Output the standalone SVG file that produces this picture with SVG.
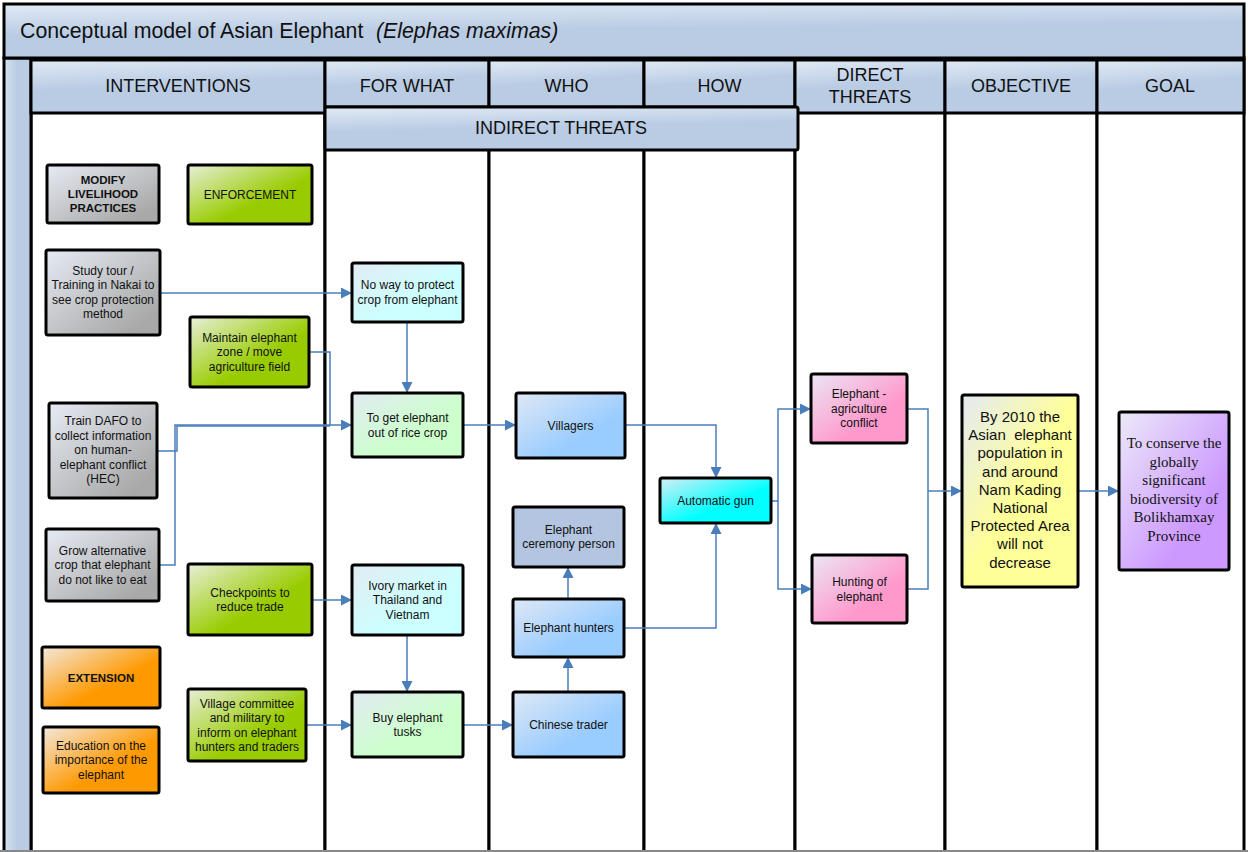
<svg xmlns="http://www.w3.org/2000/svg" width="1248" height="852" viewBox="0 0 1248 852">
  <style>
    text { font-family: "Liberation Sans", Arial, sans-serif; fill: #111; }
    .hd { font-size: 18px; text-anchor: middle; }
    .nt { font-size: 12px; text-anchor: middle; }
    .bd { font-size: 11.5px; font-weight: bold; text-anchor: middle; }
    .obj { font-size: 15px; text-anchor: middle; }
    .goal { font-family: "Liberation Serif", "Times New Roman", serif; font-size: 15px; text-anchor: middle; }
    .frame { stroke: #000; stroke-width: 3; }
    .box { stroke: #000; stroke-width: 3; }
    .link { fill: none; stroke: #4a7ebb; stroke-width: 1.5; }
    .arr { marker-end: url(#ah); }
  </style>
  <defs>
    <marker id="ah" markerUnits="userSpaceOnUse" markerWidth="11" markerHeight="11" refX="11" refY="5.5" orient="auto">
      <path d="M0,0 L11,5.5 L0,11 z" fill="#4a7ebb"/>
    </marker>
    <linearGradient id="gHead" x1="0" y1="0" x2="0.25" y2="1">
      <stop offset="0" stop-color="#e2eaf5"/>
      <stop offset="0.55" stop-color="#b9cce4"/>
    </linearGradient>
    <linearGradient id="gBand" x1="0" y1="0" x2="1" y2="0">
      <stop offset="0" stop-color="#d6e1ef"/>
      <stop offset="0.5" stop-color="#b9cce4"/>
    </linearGradient>
    <linearGradient id="gGray" x1="0" y1="0" x2="1" y2="1">
      <stop offset="0" stop-color="#e6ebf3"/>
      <stop offset="0.85" stop-color="#a9a9a9"/>
    </linearGradient>
    <linearGradient id="gGreen" x1="0" y1="0" x2="1" y2="1">
      <stop offset="0" stop-color="#e8efd9"/>
      <stop offset="0.6" stop-color="#99cc00"/>
    </linearGradient>
    <linearGradient id="gOrange" x1="0" y1="0" x2="1" y2="1">
      <stop offset="0" stop-color="#f3e8dc"/>
      <stop offset="0.6" stop-color="#ff9900"/>
    </linearGradient>
    <linearGradient id="gLCyan" x1="0" y1="0" x2="1" y2="1">
      <stop offset="0" stop-color="#e2ecf3"/>
      <stop offset="0.6" stop-color="#ccffff"/>
    </linearGradient>
    <linearGradient id="gLGreen" x1="0" y1="0" x2="1" y2="1">
      <stop offset="0" stop-color="#e2ebf3"/>
      <stop offset="0.6" stop-color="#ccffcc"/>
    </linearGradient>
    <linearGradient id="gBlue" x1="0" y1="0" x2="1" y2="1">
      <stop offset="0" stop-color="#dfe8f5"/>
      <stop offset="0.65" stop-color="#99ccff"/>
    </linearGradient>
    <linearGradient id="gCyan" x1="0" y1="0" x2="1" y2="1">
      <stop offset="0" stop-color="#d6eef6"/>
      <stop offset="0.6" stop-color="#00ffff"/>
    </linearGradient>
    <linearGradient id="gPink" x1="0" y1="0" x2="1" y2="1">
      <stop offset="0" stop-color="#ebe6f4"/>
      <stop offset="0.65" stop-color="#ff99cc"/>
    </linearGradient>
    <linearGradient id="gYellow" x1="0" y1="0" x2="1" y2="1">
      <stop offset="0" stop-color="#e3eaf3"/>
      <stop offset="0.5" stop-color="#ffff99"/>
    </linearGradient>
    <linearGradient id="gPurple" x1="0" y1="0" x2="1" y2="1">
      <stop offset="0" stop-color="#ece9f8"/>
      <stop offset="0.7" stop-color="#cc99ff"/>
    </linearGradient>
  </defs>

  <rect width="1248" height="852" fill="#fff"/>

  <!-- swimlane frame -->
  <g id="frame">
    <rect x="31" y="58" width="294" height="800" fill="#fff" class="frame"/>
    <rect x="325" y="58" width="164" height="800" fill="#fff" class="frame"/>
    <rect x="489" y="58" width="155" height="800" fill="#fff" class="frame"/>
    <rect x="644" y="58" width="151" height="800" fill="#fff" class="frame"/>
    <rect x="795" y="58" width="150" height="800" fill="#fff" class="frame"/>
    <rect x="945" y="58" width="152" height="800" fill="#fff" class="frame"/>
    <rect x="1097" y="58" width="147" height="800" fill="#fff" class="frame"/>
    <rect x="4" y="58" width="27" height="800" fill="url(#gBand)" class="frame"/>
    <rect x="4" y="4" width="1240" height="54" fill="url(#gHead)" class="frame"/>
    <text x="20" y="38" style="font-size:21.3px"><tspan>Conceptual model of Asian Elephant</tspan><tspan x="376" font-style="italic">(Elephas maximas)</tspan></text>
    <line x1="0" y1="851" x2="1248" y2="851" stroke="#888" stroke-width="2"/>
  </g>

  <!-- column headers -->
  <g id="headers">
    <rect x="31" y="60" width="294" height="53" fill="url(#gHead)" class="frame"/>
    <text x="178" y="92" class="hd">INTERVENTIONS</text>
    <rect x="325" y="60" width="164" height="47" fill="url(#gHead)" class="frame"/>
    <text x="407" y="92" class="hd">FOR WHAT</text>
    <rect x="489" y="60" width="155" height="47" fill="url(#gHead)" class="frame"/>
    <text x="566.5" y="92" class="hd">WHO</text>
    <rect x="644" y="60" width="151" height="47" fill="url(#gHead)" class="frame"/>
    <text x="719.5" y="92" class="hd">HOW</text>
    <rect x="795" y="60" width="150" height="53" fill="url(#gHead)" class="frame"/>
    <text x="870" y="81" class="hd">DIRECT</text>
    <text x="870" y="103" class="hd">THREATS</text>
    <rect x="945" y="60" width="152" height="53" fill="url(#gHead)" class="frame"/>
    <text x="1021" y="92" class="hd">OBJECTIVE</text>
    <rect x="1097" y="60" width="147" height="53" fill="url(#gHead)" class="frame"/>
    <text x="1170" y="92" class="hd">GOAL</text>
    <rect x="325" y="107" width="473" height="43" rx="2" fill="url(#gHead)" class="frame"/>
    <text x="561" y="134" class="hd">INDIRECT THREATS</text>
  </g>

  <!-- connectors -->
  <g id="connectors">
    <path class="link arr" d="M160,293 H352"/>
    <path class="link arr" d="M407,322 V393"/>
    <path class="link arr" d="M309,352 H330 V425 H352"/>
    <path class="link" d="M157,451 H177 V426 H330"/>
    <path class="link" d="M159,565 H175 V425 H330"/>
    <path class="link arr" d="M463,425 H516"/>
    <path class="link arr" d="M625,425 H716 V478"/>
    <path class="link arr" d="M624,628 H716 V523"/>
    <path class="link arr" d="M568,692 V657"/>
    <path class="link arr" d="M568,599 V567"/>
    <path class="link arr" d="M312,600 H352"/>
    <path class="link arr" d="M407,635 V692"/>
    <path class="link arr" d="M306,725 H352"/>
    <path class="link arr" d="M463,725 H513"/>
    <path class="link arr" d="M771,501 H778 V409 H811"/>
    <path class="link arr" d="M778,501 V589 H812"/>
    <path class="link" d="M907,409 H928 V589 H907"/>
    <path class="link arr" d="M928,491 H962"/>
    <path class="link arr" d="M1078,491 H1119"/>
  </g>

  <!-- interventions -->
  <g id="modify-livelihood">
    <rect x="47" y="165" width="112" height="58" rx="2" fill="url(#gGray)" class="box"/>
    <text class="bd" x="103" y="183.5"><tspan>MODIFY</tspan><tspan x="103" dy="14.3">LIVELIHOOD</tspan><tspan x="103" dy="14.3">PRACTICES</tspan></text>
  </g>
  <g id="enforcement">
    <rect x="188" y="165" width="124" height="59" rx="2" fill="url(#gGreen)" class="box"/>
    <text class="nt" x="250" y="198.5">ENFORCEMENT</text>
  </g>
  <g id="study-tour">
    <rect x="46" y="250" width="114" height="85" rx="2" fill="url(#gGray)" class="box"/>
    <text class="nt" x="103" y="274.5"><tspan>Study tour /</tspan><tspan x="103" dy="14.5">Training in Nakai to</tspan><tspan x="103" dy="14.5">see crop protection</tspan><tspan x="103" dy="14.5">method</tspan></text>
  </g>
  <g id="maintain-zone">
    <rect x="190" y="317" width="119" height="70" rx="2" fill="url(#gGreen)" class="box"/>
    <text class="nt" x="249.5" y="341.5"><tspan>Maintain elephant</tspan><tspan x="249.5" dy="14.5">zone / move</tspan><tspan x="249.5" dy="14.5">agriculture field</tspan></text>
  </g>
  <g id="train-dafo">
    <rect x="49" y="403" width="108" height="95" rx="2" fill="url(#gGray)" class="box"/>
    <text class="nt" x="103" y="425"><tspan>Train DAFO to</tspan><tspan x="103" dy="14.5">collect information</tspan><tspan x="103" dy="14.5">on human-</tspan><tspan x="103" dy="14.5">elephant conflict</tspan><tspan x="103" dy="14.5">(HEC)</tspan></text>
  </g>
  <g id="grow-alternative">
    <rect x="46" y="529" width="113" height="72" rx="2" fill="url(#gGray)" class="box"/>
    <text class="nt" x="102.5" y="554.5"><tspan>Grow alternative</tspan><tspan x="102.5" dy="14.5">crop that elephant</tspan><tspan x="102.5" dy="14.5">do not like to eat</tspan></text>
  </g>
  <g id="checkpoints">
    <rect x="188" y="564" width="124" height="71" rx="2" fill="url(#gGreen)" class="box"/>
    <text class="nt" x="250" y="596.5"><tspan>Checkpoints to</tspan><tspan x="250" dy="14.5">reduce trade</tspan></text>
  </g>
  <g id="extension">
    <rect x="42" y="647" width="118" height="61" rx="2" fill="url(#gOrange)" class="box"/>
    <text class="bd" x="101" y="681.5">EXTENSION</text>
  </g>
  <g id="education">
    <rect x="43" y="727" width="116" height="66" rx="2" fill="url(#gOrange)" class="box"/>
    <text class="nt" x="101" y="749.5"><tspan>Education on the</tspan><tspan x="101" dy="14.5">importance of the</tspan><tspan x="101" dy="14.5">elephant</tspan></text>
  </g>
  <g id="village-committee">
    <rect x="188" y="689" width="118" height="72" rx="2" fill="url(#gGreen)" class="box"/>
    <text class="nt" x="247" y="707.5"><tspan>Village committee</tspan><tspan x="247" dy="14.5">and military to</tspan><tspan x="247" dy="14.5">inform on elephant</tspan><tspan x="247" dy="14.5">hunters and traders</tspan></text>
  </g>

  <!-- for what -->
  <g id="no-way">
    <rect x="352" y="263" width="111" height="59" rx="2" fill="url(#gLCyan)" class="box"/>
    <text class="nt" x="407.5" y="289"><tspan>No way to protect</tspan><tspan x="407.5" dy="14.5">crop from elephant</tspan></text>
  </g>
  <g id="get-elephant-out">
    <rect x="352" y="393" width="111" height="64" rx="2" fill="url(#gLGreen)" class="box"/>
    <text class="nt" x="407.5" y="422"><tspan>To get elephant</tspan><tspan x="407.5" dy="14.5">out of rice crop</tspan></text>
  </g>
  <g id="ivory-market">
    <rect x="352" y="565" width="111" height="70" rx="2" fill="url(#gLCyan)" class="box"/>
    <text class="nt" x="407.5" y="589.5"><tspan>Ivory market in</tspan><tspan x="407.5" dy="14.5">Thailand and</tspan><tspan x="407.5" dy="14.5">Vietnam</tspan></text>
  </g>
  <g id="buy-tusks">
    <rect x="352" y="692" width="111" height="65" rx="2" fill="url(#gLGreen)" class="box"/>
    <text class="nt" x="407.5" y="721.5"><tspan>Buy elephant</tspan><tspan x="407.5" dy="14.5">tusks</tspan></text>
  </g>

  <!-- who -->
  <g id="villagers">
    <rect x="516" y="393" width="109" height="65" rx="2" fill="url(#gBlue)" class="box"/>
    <text class="nt" x="570.5" y="429.5">Villagers</text>
  </g>
  <g id="ceremony-person">
    <rect x="513" y="507" width="111" height="60" rx="2" fill="#b3c5e0" class="box"/>
    <text class="nt" x="568.5" y="533.5"><tspan>Elephant</tspan><tspan x="568.5" dy="14.5">ceremony person</tspan></text>
  </g>
  <g id="elephant-hunters">
    <rect x="513" y="599" width="111" height="58" rx="2" fill="url(#gBlue)" class="box"/>
    <text class="nt" x="568.5" y="632">Elephant hunters</text>
  </g>
  <g id="chinese-trader">
    <rect x="513" y="692" width="111" height="65" rx="2" fill="url(#gBlue)" class="box"/>
    <text class="nt" x="568.5" y="729">Chinese trader</text>
  </g>

  <!-- how -->
  <g id="automatic-gun">
    <rect x="660" y="478" width="111" height="45" rx="2" fill="url(#gCyan)" class="box"/>
    <text class="nt" x="715.5" y="504.5">Automatic gun</text>
  </g>

  <!-- direct threats -->
  <g id="agri-conflict">
    <rect x="811" y="374" width="96" height="69" rx="2" fill="url(#gPink)" class="box"/>
    <text class="nt" x="859" y="398"><tspan>Elephant -</tspan><tspan x="859" dy="14.5">agriculture</tspan><tspan x="859" dy="14.5">conflict</tspan></text>
  </g>
  <g id="hunting">
    <rect x="812" y="555" width="95" height="68" rx="2" fill="url(#gPink)" class="box"/>
    <text class="nt" x="859.5" y="586"><tspan>Hunting of</tspan><tspan x="859.5" dy="14.5">elephant</tspan></text>
  </g>

  <!-- objective -->
  <g id="objective">
    <rect x="962" y="395" width="116" height="192" rx="2" fill="url(#gYellow)" class="box"/>
    <text class="obj" x="1020" y="422"><tspan>By 2010 the</tspan><tspan x="1020" dy="18.2">Asian&#160; elephant</tspan><tspan x="1020" dy="18.2">population in</tspan><tspan x="1020" dy="18.2">and around</tspan><tspan x="1020" dy="18.2">Nam Kading</tspan><tspan x="1020" dy="18.2">National</tspan><tspan x="1020" dy="18.2">Protected Area</tspan><tspan x="1020" dy="18.2">will not</tspan><tspan x="1020" dy="18.2">decrease</tspan></text>
  </g>

  <!-- goal -->
  <g id="goal">
    <rect x="1119" y="412" width="110" height="158" rx="2" fill="url(#gPurple)" class="box"/>
    <text class="goal" x="1174" y="448"><tspan>To conserve the</tspan><tspan x="1174" dy="18.6">globally</tspan><tspan x="1174" dy="18.6">significant</tspan><tspan x="1174" dy="18.6">biodiversity of</tspan><tspan x="1174" dy="18.6">Bolikhamxay</tspan><tspan x="1174" dy="18.6">Province</tspan></text>
  </g>
</svg>
